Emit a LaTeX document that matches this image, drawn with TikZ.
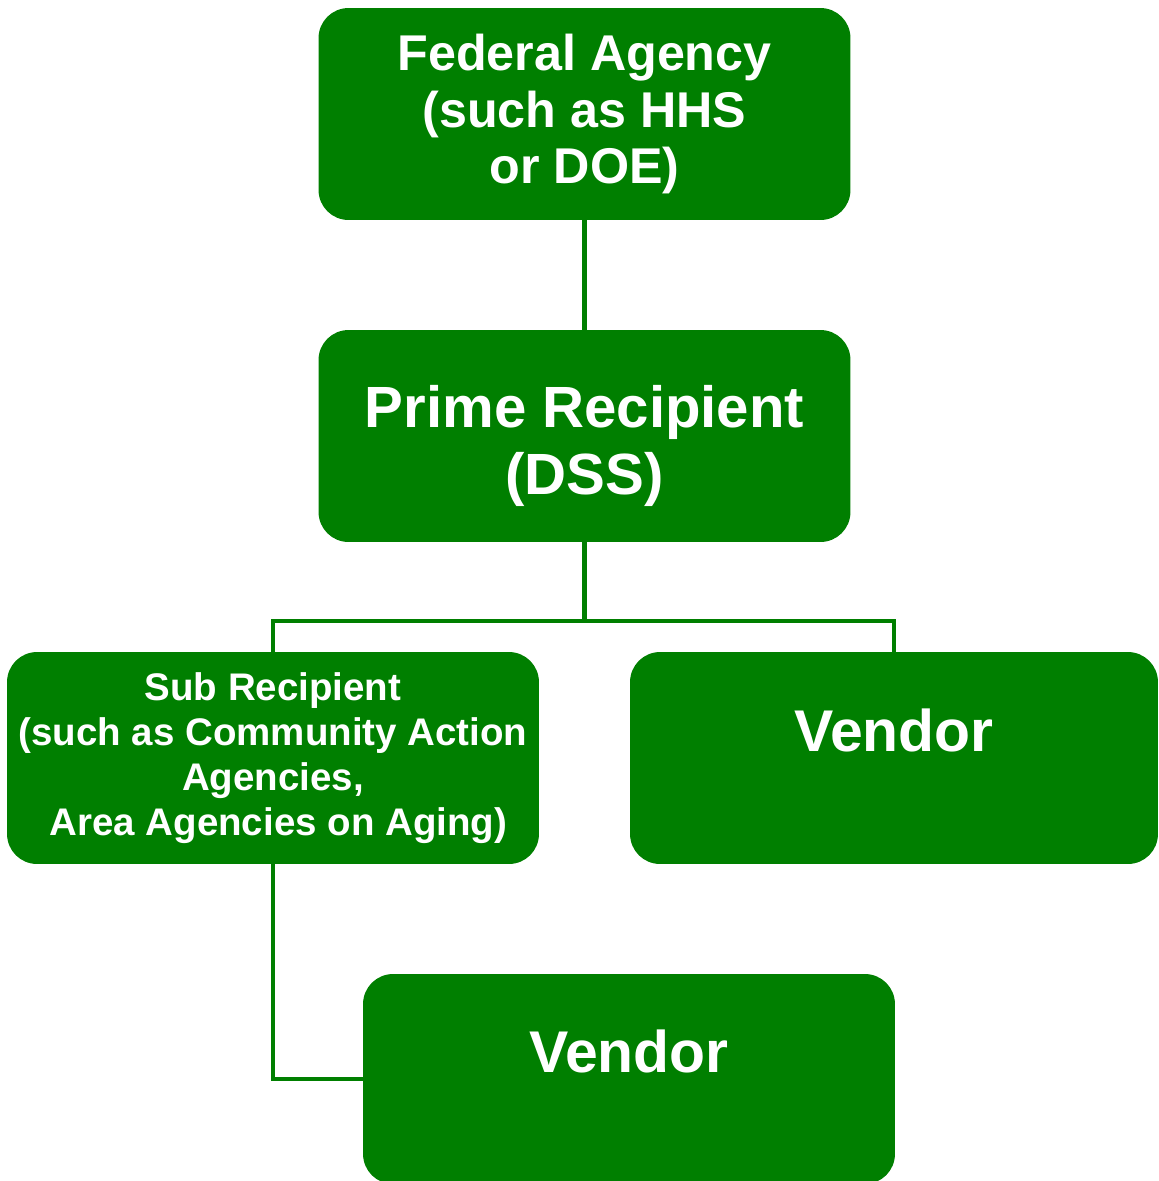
\documentclass[tikz,border=0pt]{standalone}
\usepackage{fontspec}
\setmainfont{Liberation Sans}
\usetikzlibrary{positioning}
\definecolor{orggreen}{RGB}{0,127,0}
\tikzset{
  orgbox/.style={fill=orggreen, rounded corners=0.6cm, text=white, font=\bfseries,
    align=center, minimum width=10.64cm, minimum height=4.24cm, inner sep=0pt},
  orgtext/.style={text=white, align=center, inner sep=0pt},
  orgline/.style={draw=orggreen, line width=2.3pt}
}
\begin{document}
\begin{tikzpicture}[x=0.02cm,y=-0.02cm]
  \useasboundingbox (0,0) rectangle (1159,1181);
  %% Boxes
  \node[orgbox, font=\fontsize{28.6}{32.3}\selectfont\bfseries] (fed) at (584.5,114)
    {Federal Agency\\(such as HHS\\or DOE)};
  \node[orgbox] (prime) at (584.5,436) {};
  \node[orgtext, font=\fontsize{33.1}{38.5}\selectfont\bfseries] (primelabel) at (584.5,446)
    {Prime Recipient\\(DSS)};
  \node[orgbox, font=\fontsize{21.9}{25.5}\selectfont\bfseries] (sub) at (273,758)
    {Sub Recipient\\(such as Community Action\\Agencies,\\~Area Agencies on Aging)};
  \node[orgbox, minimum width=10.56cm, font=\fontsize{33.5}{32}\selectfont\bfseries] (vend) at (894,758)
    {Vendor\\\mbox{}};
  \node[orgbox, minimum height=4.2cm, font=\fontsize{33.5}{32}\selectfont\bfseries] (vendsub) at (629,1079)
    {Vendor\\\mbox{}};
  %% Connectors
  \coordinate (bus) at (584.5,621);
  \draw[orgline] (fed) -- (prime);
  \draw[orgline] (prime.south) -- (bus);
  \draw[orgline] (sub.north) -- (sub.north |- bus) -- (vend.north |- bus) -- (vend.north);
  \draw[orgline] (sub.south) |- (vendsub.west);
\end{tikzpicture}
\end{document}
